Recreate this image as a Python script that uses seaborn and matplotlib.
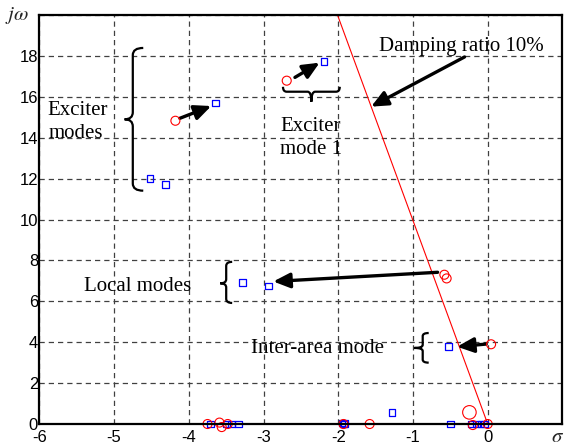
import numpy as np
import pandas as pd
import seaborn as sns
import matplotlib.pyplot as plt
from matplotlib.path import Path
from matplotlib.patches import PathPatch

# open-loop eigenvalues (red circles)
open_sigma = [-4.18, -2.69, -0.58, -0.55, 0.045, -1.58, -3.75, -3.59, -3.56, -3.48,
              -1.93, -0.20, 0.0]
open_omega = [14.83, 16.79, 7.30, 7.12, 3.90, 0.0, 0.0, 0.07, -0.15, 0.0,
              0.0, -0.05, 0.0]
# the larger circle near the origin
big_sigma = [-0.245]
big_omega = [0.57]

# closed-loop eigenvalues (blue squares)
closed_sigma = [-3.64, -4.52, -4.31, -2.19, -3.28, -2.93, -0.53, -1.28, -0.50,
                -3.71, -3.50, -3.43, -3.33, -1.95, -1.93, -1.92,
                -0.22, -0.155, -0.09, -0.045]
closed_omega = [15.70, 12.01, 11.72, 17.72, 6.93, 6.75, 3.78, 0.57, 0.0,
                0.0, 0.0, 0.0, 0.0, 0.05, 0.0, 0.03,
                0.0, 0.0, 0.0, 0.0]

# 10% damping ratio line
damp_sigma = [0.0, -2.01]
damp_omega = [0.0, 20.0]

x_ticks = [-6, -5, -4, -3, -2, -1, 0, 1]
x_labels = ['-6', '-5', '-4', '-3', '-2', '-1', '0', '']
y_ticks = [0, 2, 4, 6, 8, 10, 12, 14, 16, 18, 20]
y_labels = ['0', '2', '4', '6', '8', '10', '12', '14', '16', '18', '']

open_df = pd.DataFrame({'sigma': open_sigma, 'omega': open_omega})
closed_df = pd.DataFrame({'sigma': closed_sigma, 'omega': closed_omega})

sns.set_style('white')
plt.rcParams['font.family'] = ['Liberation Sans', 'DejaVu Sans']

fig = plt.figure(figsize=(5.71, 4.46), dpi=100)
ax = fig.add_axes([0.069, 0.0493, 0.916, 0.917])

sns.lineplot(x=damp_sigma, y=damp_omega, color='red', lw=0.8, ax=ax, sort=False)
sns.scatterplot(data=closed_df, x='sigma', y='omega', marker='s', s=24,
                fc='none', ec='blue', linewidth=0.9, ax=ax, clip_on=False, zorder=4)
sns.scatterplot(data=open_df, x='sigma', y='omega', marker='o', s=42,
                fc='none', ec='red', linewidth=0.8, ax=ax, clip_on=False, zorder=4)
sns.scatterplot(x=big_sigma, y=big_omega, marker='o', s=95,
                fc='none', ec='red', linewidth=0.8, ax=ax, clip_on=False, zorder=4)

ax.set_xlim(-6, 1)
ax.set_ylim(0, 20)
ax.set_xticks(x_ticks)
ax.set_xticklabels(x_labels)
ax.set_yticks(y_ticks)
ax.set_yticklabels(y_labels)
ax.tick_params(length=0, labelsize=12, colors='black')
ax.tick_params(axis='x', pad=4)
ax.tick_params(axis='y', pad=1)
ax.set_xlabel('')
ax.set_ylabel('')
ax.grid(True, color='0.25', linestyle=(0, (4.2, 3.2)), linewidth=0.9)
for s in ax.spines.values():
    s.set_color('black')
    s.set_linewidth(1.6)
    s.set_zorder(5)

serif = ['Liberation Serif', 'DejaVu Serif']
ax.text(-0.043, 1.0, r'$j\omega$', transform=ax.transAxes, ha='center', va='center',
        fontsize=15, family=serif, math_fontfamily='stix')
ax.text(0.99, -0.034, r'$\sigma$', transform=ax.transAxes, ha='center', va='center',
        fontsize=15, family=serif, math_fontfamily='stix')

tfont = dict(fontsize=15, family=serif, color='black')
ax.text(-5.49, 15.35, 'Exciter', ha='center', va='center', **tfont)
ax.text(-5.51, 14.2, 'modes', ha='center', va='center', **tfont)
ax.text(-2.37, 14.55, 'Exciter', ha='center', va='center', **tfont)
ax.text(-2.37, 13.4, 'mode 1', ha='center', va='center', **tfont)
ax.text(-0.35, 18.45, 'Damping ratio 10%', ha='center', va='center', **tfont)
ax.text(-4.68, 6.71, 'Local modes', ha='center', va='center', **tfont)
ax.text(-2.28, 3.68, 'Inter-area mode', ha='center', va='center', **tfont)

arrows = [((-4.12, 14.95), (-3.70, 15.55)),
          ((-2.58, 16.95), (-2.25, 17.67)),
          ((-0.31, 17.95), (-1.56, 15.52)),
          ((-0.67, 7.42), (-2.87, 6.97)),
          ((-0.02, 3.91), (-0.41, 3.78))]
for tail, head in arrows:
    ax.annotate('', xy=head, xytext=tail,
                arrowprops=dict(arrowstyle='-|>,head_length=1.0,head_width=0.45',
                                lw=2.4, color='black', shrinkA=0, shrinkB=0))


def vbrace(xs, xe, xt, ytop, ybot, ym, r):
    verts = [(xe, ytop), (xs, ytop), (xs, ytop - r), (xs, ym + r),
             (xs, ym), (xt, ym), (xs, ym), (xs, ym - r),
             (xs, ybot + r), (xs, ybot), (xe, ybot)]
    codes = [Path.MOVETO, Path.CURVE3, Path.CURVE3, Path.LINETO,
             Path.CURVE3, Path.CURVE3, Path.CURVE3, Path.CURVE3,
             Path.LINETO, Path.CURVE3, Path.CURVE3]
    ax.add_patch(PathPatch(Path(verts, codes), fc='none', ec='black', lw=1.6, zorder=6))


def hbrace(ys, ye, yt, xl, xr, xm, r):
    verts = [(xl, ye), (xl, ys), (xl + r, ys), (xm - r, ys),
             (xm, ys), (xm, yt), (xm, ys), (xm + r, ys),
             (xr - r, ys), (xr, ys), (xr, ye)]
    codes = [Path.MOVETO, Path.CURVE3, Path.CURVE3, Path.LINETO,
             Path.CURVE3, Path.CURVE3, Path.CURVE3, Path.CURVE3,
             Path.LINETO, Path.CURVE3, Path.CURVE3]
    ax.add_patch(PathPatch(Path(verts, codes), fc='none', ec='black', lw=1.6, zorder=6))


vbrace(-4.75, -4.61, -4.86, 18.39, 11.41, 14.9, 0.35)
vbrace(-3.50, -3.42, -3.58, 7.93, 5.92, 6.88, 0.2)
vbrace(-0.87, -0.79, -0.98, 4.45, 3.0, 3.72, 0.15)
hbrace(16.25, 16.49, 15.76, -2.74, -1.98, -2.36, 0.05)

fig.savefig('out.png', dpi=100)
